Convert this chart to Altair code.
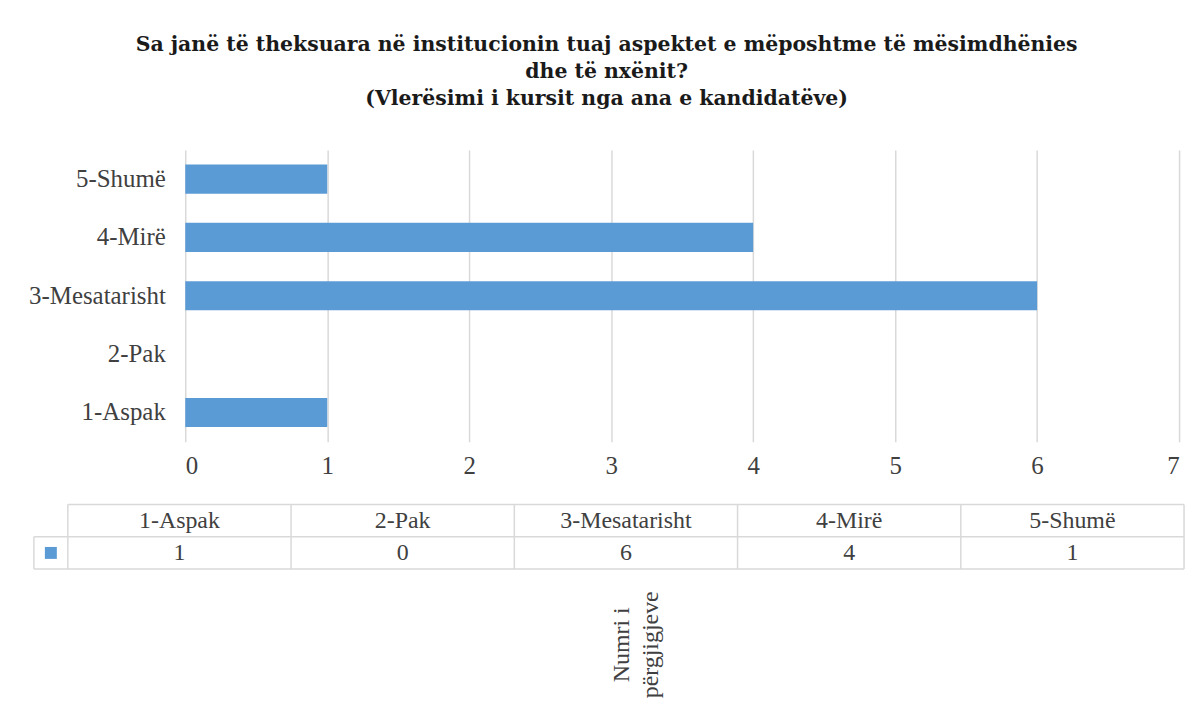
import altair as alt
import pandas as pd

categories = ["1-Aspak", "2-Pak", "3-Mesatarisht", "4-Mirë", "5-Shumë"]
values = [1, 0, 6, 4, 1]
x_ticks = [0, 1, 2, 3, 4, 5, 6, 7]
title_lines = [
    "Sa janë të theksuara në institucionin tuaj aspektet e mëposhtme të mësimdhënies",
    "dhe të nxënit?",
    "(Vlerësimi i kursit nga ana e kandidatëve)",
]
axis_title = "Numri i\npërgjigjeve"

BAR = "#5B9BD5"
GRID = "#D9D9D9"
TXT = "#404040"
FONT = "Liberation Serif"
TITLE_FONT = "DejaVu Serif"

N = len(categories)
KEY_LEFT = -0.152  # legend-key column width, in table-column units
TABLE_LEFT_IN_PLOT = 0.526

df = pd.DataFrame({"cat": categories, "val": values, "col": list(range(N))})

top = alt.Chart(df).mark_bar(color=BAR).encode(
    x=alt.X("val:Q",
            scale=alt.Scale(domain=[0, 7], nice=False, zero=True),
            axis=alt.Axis(values=x_ticks, format="d", title=None, domain=False, ticks=False,
                          grid=True, gridColor=GRID, gridWidth=1.5,
                          labelFont=FONT, labelFontSize=25, labelColor=TXT, labelPadding=12)),
    y=alt.Y("cat:N", sort=categories[::-1],
            scale=alt.Scale(paddingInner=0.5, paddingOuter=0.25),
            axis=alt.Axis(title=None, domain=False, ticks=False, labelFont=FONT,
                          labelFontSize=25, labelColor=TXT, labelPadding=20, labelLimit=0)),
).properties(width=998, height=293)

xscale = alt.Scale(domain=[TABLE_LEFT_IN_PLOT, N], nice=False, zero=False)
yscale = alt.Scale(domain=[2, 0], nice=False, zero=False)

hl = pd.DataFrame({"y": [0, 1, 2], "x1": [0, KEY_LEFT, KEY_LEFT], "x2": [N, N, N]})
vl = pd.DataFrame({"x": list(range(N + 1)) + [KEY_LEFT],
                   "y1": [0] * (N + 1) + [1], "y2": [2] * (N + 2)})
keydf = pd.DataFrame({"xk": [KEY_LEFT / 2], "yk": [1.5]})
titledf = pd.DataFrame({"t": [axis_title]})

hrule = alt.Chart(hl).mark_rule(color=GRID, strokeWidth=1.5).encode(
    x=alt.X("x1:Q", scale=xscale, axis=None), x2="x2:Q",
    y=alt.Y("y:Q", scale=yscale, axis=None))
vrule = alt.Chart(vl).mark_rule(color=GRID, strokeWidth=1.5).encode(
    x=alt.X("x:Q", scale=xscale, axis=None),
    y=alt.Y("y1:Q", scale=yscale, axis=None), y2="y2:Q")
htext = alt.Chart(df).transform_calculate(xc="datum.col + 0.5", yc="0.5").mark_text(
    font=FONT, fontSize=24, color=TXT).encode(
    x=alt.X("xc:Q", scale=xscale, axis=None),
    y=alt.Y("yc:Q", scale=yscale, axis=None), text="cat:N")
vtext = alt.Chart(df).transform_calculate(xc="datum.col + 0.5", yc="1.5").mark_text(
    font=FONT, fontSize=24, color=TXT).encode(
    x=alt.X("xc:Q", scale=xscale, axis=None),
    y=alt.Y("yc:Q", scale=yscale, axis=None), text="val:Q")
key = alt.Chart(keydf).mark_square(color=BAR, size=144, opacity=1).encode(
    x=alt.X("xk:Q", scale=xscale, axis=None),
    y=alt.Y("yk:Q", scale=yscale, axis=None))
atitle = alt.Chart(titledf).mark_text(
    font=FONT, fontSize=24, color=TXT, angle=270, align="center", baseline="top",
    lineBreak="\n", lineHeight=29).encode(
    x=alt.value(427), y=alt.value(141), text="t:N")

bottom = alt.layer(hrule, vrule, htext, vtext, key, atitle).properties(width=1003, height=65)

chart = alt.vconcat(
    top, bottom, spacing=25,
    title=alt.TitleParams(text=title_lines, font=TITLE_FONT, fontSize=20.5, fontWeight="bold",
                          color="#1a1a1a", anchor="middle", lineHeight=27, offset=41),
).properties(
    padding={"left": 20, "top": 25, "right": 10, "bottom": 10},
    background="white",
).configure_view(stroke=None)

chart.save("out.html", embed_options={"renderer": "svg", "actions": False})
